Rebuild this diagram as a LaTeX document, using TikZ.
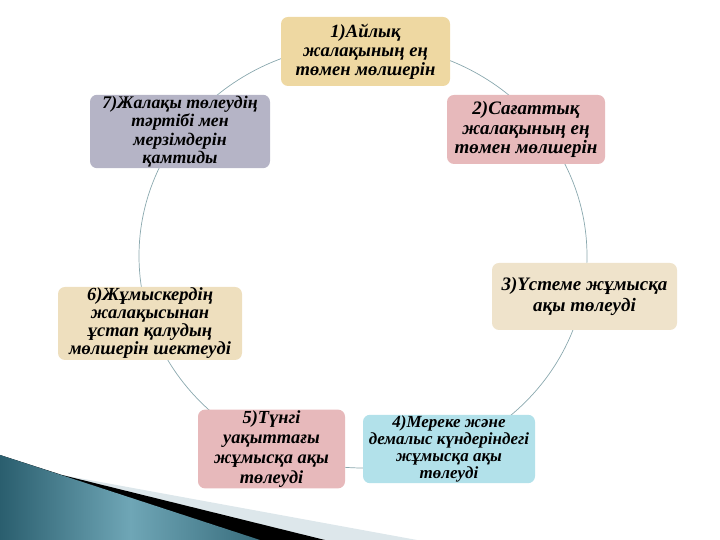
\documentclass[tikz,border=0pt]{standalone}
\usepackage{fontspec}
\setmainfont{Liberation Serif}
\definecolor{papyrus}{HTML}{EED8A2}
\definecolor{lavender}{HTML}{B5B4C6}
\definecolor{rosy}{HTML}{E7B9BB}
\definecolor{sand}{HTML}{EFE3CB}
\definecolor{oat}{HTML}{EEDFBE}
\definecolor{aqua}{HTML}{B2E1EA}
\definecolor{ring}{HTML}{8AA8AE}
\definecolor{tealdark}{HTML}{2A5E6E}
\definecolor{teallight}{HTML}{6FA6B6}
\definecolor{stripe}{HTML}{DDE7EB}

\begin{document}
\begin{tikzpicture}[x=1pt,y=1pt,
      every node/.append style={align=center,font=\bfseries\itshape\fontsize{18.6}{19}\selectfont},
      stage/.style={rounded corners=7pt,inner sep=1pt}]
    \useasboundingbox (0,0) rectangle (720,540);
    % template corner
    \fill[stripe] (0,85) -- (62,65) -- (417,0) -- (0,0) -- cycle;
    \fill[black] (0,85) -- (62,65) -- (325,0) -- (0,0) -- cycle;
    \shade[left color=tealdark,right color=tealdark!80!teallight,middle color=teallight] (0,85) -- (260,0) -- (0,0) -- cycle;
    % cycle ring
    \draw[ring,line width=0.7pt] (363,284) ellipse [x radius=224,y radius=212];
    \node (monthly) [stage,fill=papyrus,minimum width=169pt,minimum height=69pt] at (365.5,488.5)
      {1)Айлық\\жалақының ең\\төмен мөлшерін};
    \node (hourly) [stage,fill=rosy,minimum width=158pt,minimum height=69pt,
      font=\bfseries\itshape\fontsize{19}{19.5}\selectfont] at (526,410.5)
      {2)Сағаттық\\жалақының ең\\төмен мөлшерін};
    \node (overtime) [stage,fill=sand,minimum width=185pt,minimum height=67pt,
      font=\bfseries\itshape\fontsize{19}{21}\selectfont] at (584.5,243.5)
      {3)Үстеме жұмысқа\\ақы төлеуді};
    \node (holiday) [stage,fill=aqua,minimum width=172pt,minimum height=68pt,
      font=\bfseries\itshape\fontsize{17}{17}\selectfont] at (449,91)
      {4)Мереке және\\демалыс күндеріндегі\\жұмысқа ақы\\төлеуді};
    \node (night) [stage,fill=rosy,minimum width=147pt,minimum height=68pt,
      font=\bfseries\itshape\fontsize{18.4}{20}\selectfont] at (271.5,91)
      {5)Түнгі\\уақыттағы\\жұмысқа ақы\\төлеуді};
    \node (deduct) [stage,fill=oat,minimum width=184pt,minimum height=73pt,
      font=\bfseries\itshape\fontsize{18.5}{18}\selectfont] at (150,216.5)
      {6)Жұмыскердің\\жалақысынан\\ұстап қалудың\\мөлшерін шектеуді};
    \node (terms) [stage,fill=lavender,minimum width=180pt,minimum height=69pt,
      font=\bfseries\itshape\fontsize{17.8}{18.5}\selectfont] at (180,408.5)
      {7)Жалақы төлеудің\\тәртібі мен\\мерзімдерін\\қамтиды};
\end{tikzpicture}
\end{document}
